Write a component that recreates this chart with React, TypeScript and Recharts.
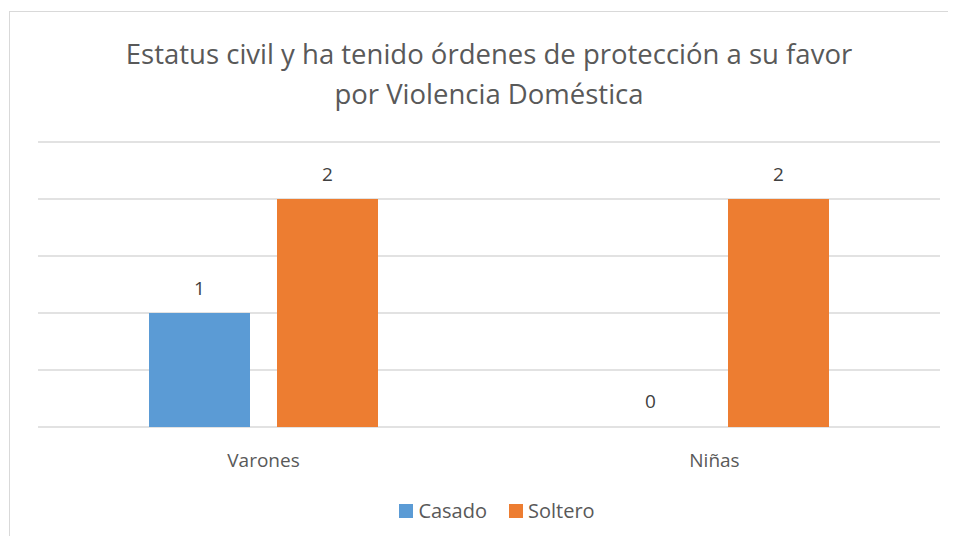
import React from "react";
import {
  BarChart,
  Bar,
  XAxis,
  YAxis,
  CartesianGrid,
  Legend,
  LabelList,
  Rectangle,
} from "recharts";

const categories = ["Varones", "Niñas"];
const casado = [1, 0];
const soltero = [2, 2];
const yTicks = [0, 0.5, 1, 1.5, 2, 2.5];

const data = categories.map((name, i) => ({
  name,
  Casado: casado[i],
  Soltero: soltero[i],
}));

const FONT = "'Open Sans', sans-serif";

const renderLegend = () => (
  <div
    style={{
      display: "flex",
      justifyContent: "center",
      gap: 22,
      fontFamily: FONT,
      fontSize: 20,
      color: "#595959",
    }}
  >
    {[
      { label: "Casado", color: "#5B9BD5" },
      { label: "Soltero", color: "#ED7D31" },
    ].map((it) => (
      <div key={it.label} style={{ display: "flex", alignItems: "center" }}>
        <span
          style={{
            width: 14,
            height: 14,
            background: it.color,
            display: "inline-block",
            marginRight: 5,
          }}
        />
        {it.label}
      </div>
    ))}
  </div>
);

// zero values keep a label but draw no bar
const BarShape = (props: any) => {
  if (!props.value || props.height <= 1) return <g />;
  return <Rectangle {...props} />;
};

export default function App() {
  return (
    <div
      style={{
        position: "relative",
        width: 956,
        height: 544,
        margin: -8,
        overflow: "hidden",
        background: "#fff",
      }}
    >
      <div
        style={{
          position: "absolute",
          left: 9,
          top: 11,
          width: 980,
          height: 580,
          border: "1px solid #d9d9d9",
        }}
      />
      <div
        style={{
          position: "absolute",
          left: 0,
          top: 34,
          width: 978,
          textAlign: "center",
          fontFamily: FONT,
          fontSize: 27.5,
          lineHeight: "40px",
          color: "#595959",
        }}
      >
        Estatus civil y ha tenido órdenes de protección a su favor
        <br />
        por Violencia Doméstica
      </div>
      <div style={{ position: "absolute", left: 0, top: 0 }}>
        <BarChart
          width={956}
          height={544}
          data={data}
          margin={{ top: 142, right: 16, bottom: 87, left: 38 }}
          barSize={101}
          barGap={27}
        >
          <CartesianGrid
            vertical={false}
            stroke="#d9d9d9"
            strokeWidth={1.5}
          />
          <XAxis
            dataKey="name"
            axisLine={false}
            tickLine={false}
            height={30}
            tick={{ fill: "#595959", fontSize: 19, fontFamily: FONT }}
            tickMargin={21}
          />
          <YAxis hide domain={[0, 2.5]} ticks={yTicks} />
          <Legend
            verticalAlign="middle"
            align="center"
            content={renderLegend}
            wrapperStyle={{ top: 497, left: 8, width: 978 }}
          />
          <Bar
            dataKey="Casado"
            fill="#5B9BD5"
            minPointSize={1}
            shape={BarShape}
            isAnimationActive={false}
          >
            <LabelList
              dataKey="Casado"
              position="top"
              offset={18}
              style={{ fill: "#404040", fontSize: 19, fontFamily: FONT }}
            />
          </Bar>
          <Bar dataKey="Soltero" fill="#ED7D31" isAnimationActive={false}>
            <LabelList
              dataKey="Soltero"
              position="top"
              offset={18}
              style={{ fill: "#404040", fontSize: 19, fontFamily: FONT }}
            />
          </Bar>
        </BarChart>
      </div>
    </div>
  );
}
